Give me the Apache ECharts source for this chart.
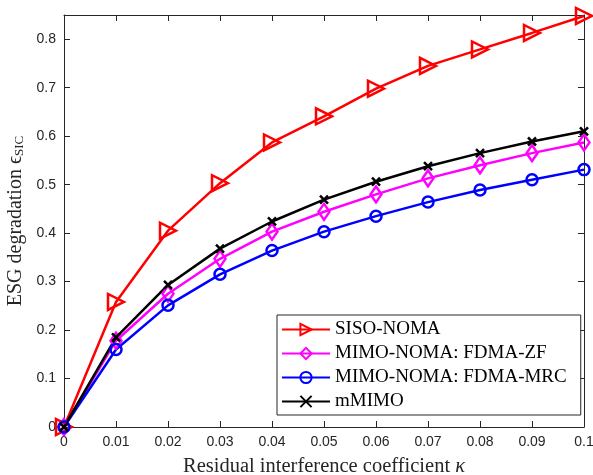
<!DOCTYPE html>
<html>
<head>
<meta charset="utf-8">
<script src="https://cdn.jsdelivr.net/npm/echarts@6/dist/echarts.min.js"></script>
<style>
  html, body { margin: 0; padding: 0; background: #fff; }
  #chart { width: 593px; height: 475px; }
</style>
</head>
<body>
<div id="chart"></div>
<script>
// residual interference coefficient kappa
const kappa = [0, 0.01, 0.02, 0.03, 0.04, 0.05, 0.06, 0.07, 0.08, 0.09, 0.1];

const sisoNoma = [0, 0.258, 0.405, 0.503, 0.587, 0.641, 0.698, 0.745, 0.779, 0.813, 0.848];
const fdmaZF = [0, 0.178, 0.275, 0.347, 0.403, 0.444, 0.480, 0.513, 0.540, 0.565, 0.587];
const fdmaMRC = [0, 0.160, 0.251, 0.315, 0.364, 0.403, 0.435, 0.464, 0.489, 0.510, 0.531];
const mMimo = [0, 0.185, 0.293, 0.368, 0.424, 0.469, 0.506, 0.538, 0.565, 0.589, 0.610];

const seriesNames = ['SISO-NOMA', 'MIMO-NOMA: FDMA-ZF', 'MIMO-NOMA: FDMA-MRC', 'mMIMO'];
const xTickLabels = ['0', '0.01', '0.02', '0.03', '0.04', '0.05', '0.06', '0.07', '0.08', '0.09', '0.1'];
const yTickLabels = ['0', '0.1', '0.2', '0.3', '0.4', '0.5', '0.6', '0.7', '0.8'];

const axisColor = '#262626';
const serif = '"Liberation Serif", "Times New Roman", "DejaVu Serif", serif';
const sans = '"Liberation Sans", Arial, Helvetica, sans-serif';

function pairs(ys) { return kappa.map((k, i) => [k, ys[i]]); }

function makeSeries(name, ys, color, symbol, size, rotate) {
    return {
        name: name, type: 'line', data: pairs(ys),
        symbol: symbol, symbolSize: size, symbolRotate: rotate || 0,
        showAllSymbol: true,
        lineStyle: { color: color, width: 2.5 },
        itemStyle: { color: 'rgba(255,255,255,0)', borderColor: color, borderWidth: 2.5 },
        emphasis: { disabled: true },
        z: 3
    };
}

const chart = echarts.init(document.getElementById('chart'));

const xLabelFmt = v => xTickLabels[Math.round(v * 100)] ?? '';
const yLabelFmt = v => yTickLabels[Math.round(v * 10)] ?? '';

// the frame: a second x axis on top and y axis on the right, no labels
const frameTick = { inside: true, length: 6, lineStyle: { color: axisColor } };
const frameLine = { show: true, onZero: false, lineStyle: { color: axisColor } };

chart.setOption({
    animation: false,
    grid: { left: 64, top: 15, right: 9, bottom: 48, outerBoundsMode: 'none' },
    legend: {
        orient: 'vertical', left: 277, top: 315,
        padding: [5, 14, 4, 4],
        itemGap: 5, itemWidth: 48, itemHeight: 14,
        backgroundColor: '#fff', borderColor: axisColor, borderWidth: 1,
        textStyle: { fontFamily: serif, fontSize: 19, color: '#000' },
        data: seriesNames
    },
    xAxis: [{
        type: 'value', min: 0, max: 0.1, interval: 0.01,
        name: '{n|Residual interference coefficient }{k|\u03BA}',
        nameLocation: 'middle', nameGap: 29,
        nameTextStyle: {
            rich: {
                n: { fontFamily: serif, fontSize: 20.5, color: axisColor },
                k: { fontFamily: serif, fontSize: 20.5, fontStyle: 'italic', color: axisColor }
            }
        },
        axisLine: frameLine,
        axisTick: frameTick,
        axisLabel: { formatter: xLabelFmt, fontFamily: sans, fontSize: 14, color: axisColor, margin: 8 },
        splitLine: { show: false }
    }, {
        type: 'value', min: 0, max: 0.1, interval: 0.01, position: 'top',
        axisLine: frameLine,
        axisTick: frameTick,
        axisLabel: { show: false },
        splitLine: { show: false }
    }],
    yAxis: [{
        type: 'value', min: 0, max: 0.85, interval: 0.1,
        name: '{n|ESG degradation \u03F5}{s|SIC}',
        nameLocation: 'middle', nameGap: 28,
        nameTextStyle: {
            rich: {
                n: { fontFamily: serif, fontSize: 20, color: axisColor },
                s: { fontFamily: serif, fontSize: 13, color: axisColor, verticalAlign: 'bottom', padding: [7, 0, 0, 0] }
            }
        },
        axisLine: frameLine,
        axisTick: Object.assign({ show: true }, frameTick),
        axisLabel: { formatter: yLabelFmt, showMaxLabel: false, fontFamily: sans, fontSize: 14, color: axisColor, margin: 8 },
        splitLine: { show: false }
    }, {
        type: 'value', min: 0, max: 0.85, interval: 0.1, position: 'right',
        axisLine: frameLine,
        axisTick: Object.assign({ show: true }, frameTick),
        axisLabel: { show: false },
        splitLine: { show: false }
    }],
    series: [
        makeSeries(seriesNames[0], sisoNoma, '#ff0000', 'triangle', 16, -90),
        makeSeries(seriesNames[1], fdmaZF, '#ff00ff', 'diamond', [11, 16]),
        makeSeries(seriesNames[2], fdmaMRC, '#0000ff', 'circle', 11),
        makeSeries(seriesNames[3], mMimo, '#000000', 'path://M0,0L10,10M10,0L0,10', 8)
    ]
});
</script>
</body>
</html>
